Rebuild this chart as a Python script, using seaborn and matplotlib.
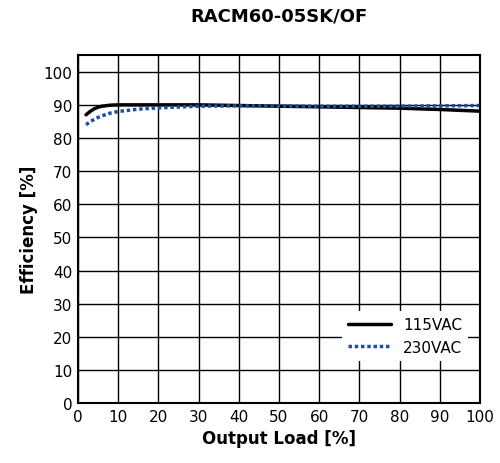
import matplotlib
matplotlib.use("Agg")
import matplotlib.pyplot as plt
import seaborn as sns
import pandas as pd

load_115 = [2, 3, 4, 5, 6, 8, 10, 15, 20, 30, 40, 50, 60, 70, 80, 90, 100]
eff_115 = [87.0, 88.0, 88.8, 89.3, 89.6, 89.9, 90.0, 90.0, 90.0, 90.0, 89.8, 89.6, 89.4, 89.2, 89.0, 88.6, 88.1]
load_230 = [2, 3, 4, 5, 6, 8, 10, 15, 20, 30, 40, 50, 60, 70, 80, 90, 100]
eff_230 = [84.0, 84.9, 85.6, 86.2, 86.7, 87.5, 88.0, 88.7, 89.1, 89.6, 89.7, 89.7, 89.6, 89.6, 89.6, 89.7, 89.8]

sns.set_style("white")
plt.rcParams["font.family"] = ["Liberation Sans Narrow", "DejaVu Sans"]
plt.rcParams["text.color"] = "black"
plt.rcParams["axes.labelcolor"] = "black"
plt.rcParams["xtick.color"] = "black"
plt.rcParams["ytick.color"] = "black"

df = pd.concat([
    pd.DataFrame({"load": load_115, "eff": eff_115, "input": "115VAC"}),
    pd.DataFrame({"load": load_230, "eff": eff_230, "input": "230VAC"}),
])

fig = plt.figure(figsize=(5, 4.64), dpi=100)
ax = fig.add_axes([0.156, 0.129, 0.804, 0.75])
sns.lineplot(data=df[df.input == "115VAC"], x="load", y="eff", color="black", lw=2.5, ax=ax, label="115VAC")
sns.lineplot(data=df[df.input == "230VAC"], x="load", y="eff", color="#1f4fa0", lw=2.5, ls=(0, (1, 0.8)), ax=ax, label="230VAC")

ax.set_xlim(0, 100)
ax.set_ylim(0, 105)
ax.set_xticks(range(0, 101, 10))
ax.set_yticks(range(0, 101, 10))
ax.grid(True, color="black", lw=1)
for s in ax.spines.values():
    s.set_color("black")
    s.set_linewidth(1.5)
ax.tick_params(labelsize=11, length=0, pad=4)
ax.set_xlabel("Output Load [%]", fontsize=12, fontweight="bold")
ax.set_ylabel("Efficiency [%]", fontsize=12, fontweight="bold")
ax.set_title("RACM60-05SK/OF", fontsize=13, fontweight="bold", pad=25)
leg = ax.legend(loc="lower right", bbox_to_anchor=(0.99, 0.1), fontsize=11, frameon=True,
                fancybox=False, edgecolor="none", facecolor="white", framealpha=1, handlelength=2.8)
fig.savefig("out.png", dpi=100)
